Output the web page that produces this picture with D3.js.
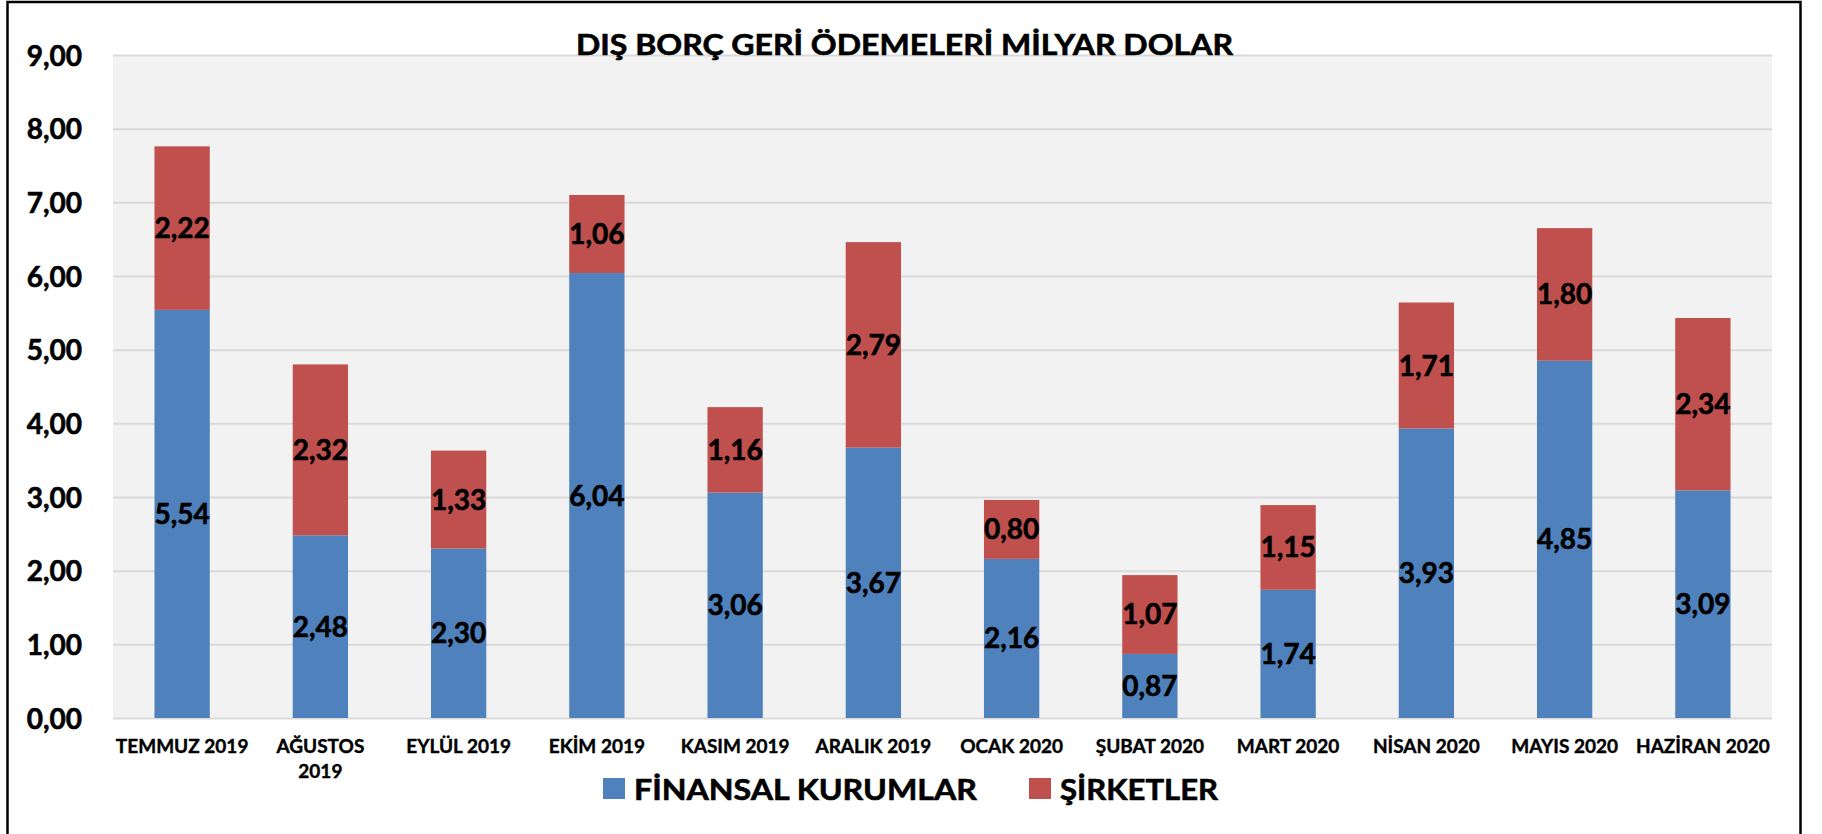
<!DOCTYPE html>
<html>
<head>
<meta charset="utf-8">
<script src="https://cdn.jsdelivr.net/npm/d3@7"></script>
<style>
  body { margin: 0; background: #fff; }
  text { font-family: Lato, "Open Sans", sans-serif; font-weight: 700; fill: #000; stroke: #000; stroke-width: 0.6px; }
</style>
</head>
<body>
<div id="chart"></div>
<script>
// Veriler (milyar dolar)
const months = ["TEMMUZ 2019", "AĞUSTOS 2019", "EYLÜL 2019", "EKİM 2019", "KASIM 2019", "ARALIK 2019",
  "OCAK 2020", "ŞUBAT 2020", "MART 2020", "NİSAN 2020", "MAYIS 2020", "HAZİRAN 2020"];
const xLabels = ["TEMMUZ 2019", "AĞUSTOS\n2019", "EYLÜL 2019", "EKİM 2019", "KASIM 2019", "ARALIK 2019",
  "OCAK 2020", "ŞUBAT 2020", "MART 2020", "NİSAN 2020", "MAYIS 2020", "HAZİRAN 2020"];
const finansal = [5.54, 2.48, 2.30, 6.04, 3.06, 3.67, 2.16, 0.87, 1.74, 3.93, 4.85, 3.09];
const sirketler = [2.22, 2.32, 1.33, 1.06, 1.16, 2.79, 0.80, 1.07, 1.15, 1.71, 1.80, 2.34];
const seriesNames = ["FİNANSAL KURUMLAR", "ŞİRKETLER"];
const colors = ["#4f81bd", "#c0504d"];
const yTicks = [0, 1, 2, 3, 4, 5, 6, 7, 8, 9];
const title = "DIŞ BORÇ GERİ ÖDEMELERİ MİLYAR DOLAR";

const W = 1822, H = 834;
const plot = { left: 113, right: 1772, top: 55, bottom: 718 };

const svg = d3.select("#chart").append("svg")
  .attr("width", W)
  .attr("height", H);

// çerçeve
svg.append("rect")
  .attr("x", 7.5).attr("y", 2)
  .attr("width", 1793).attr("height", 860)
  .attr("fill", "none")
  .attr("stroke", "#000")
  .attr("stroke-width", 2.5);

// çizim alanı arka planı
svg.append("rect")
  .attr("x", plot.left).attr("y", plot.top)
  .attr("width", plot.right - plot.left)
  .attr("height", plot.bottom - plot.top)
  .attr("fill", "#f2f2f2");

const x = d3.scaleBand()
  .domain(months)
  .range([plot.left, plot.right])
  .paddingInner(0.6)
  .paddingOuter(0.3);

const y = d3.scaleLinear().domain([0, 9]).range([plot.bottom, plot.top]);

const locale = d3.formatLocale({ decimal: ",", thousands: ".", grouping: [3], currency: ["", ""] });
const fmt = locale.format(".2f");

// Y-ekseni ve yatay ızgara
const yAxis = svg.append("g")
  .attr("transform", "translate(" + plot.left + ",0)")
  .call(d3.axisLeft(y).tickValues(yTicks).tickFormat(fmt)
    .tickSize(-(plot.right - plot.left)).tickPadding(31));
yAxis.select(".domain").remove();
yAxis.selectAll(".tick line").attr("stroke", "#d9d9d9").attr("stroke-width", 2);
yAxis.selectAll("text")
  .style("font-size", "28px")
  .attr("dy", "0.36em");

// X-ekseni
const xAxis = svg.append("g")
  .attr("transform", "translate(0," + plot.bottom + ")")
  .call(d3.axisBottom(x).tickSize(0).tickFormat(function (d, i) { return ""; }));
xAxis.select(".domain").remove();
xAxis.selectAll(".tick").each(function (d, i) {
  const lines = xLabels[i].split("\n");
  const t = d3.select(this).append("text")
    .attr("text-anchor", "middle")
    .attr("y", 35)
    .style("font-size", "19px")
    .style("stroke-width", "0.4px");
  lines.forEach(function (l, k) {
    t.append("tspan").attr("x", 0).attr("dy", k === 0 ? 0 : 25).text(l);
  });
});

// Yığılmış barlar
const rows = months.map(function (m, i) {
  return { month: m, fin: finansal[i], sir: sirketler[i] };
});
const stacked = d3.stack().keys(["fin", "sir"])(rows);

const layers = svg.selectAll(".layer")
  .data(stacked)
  .enter()
  .append("g")
  .attr("fill", function (d, i) { return colors[i]; });

layers.selectAll("rect")
  .data(function (d) { return d; })
  .enter()
  .append("rect")
  .attr("x", function (d) { return x(d.data.month); })
  .attr("y", function (d) { return y(d[1]); })
  .attr("width", x.bandwidth())
  .attr("height", function (d) { return y(d[0]) - y(d[1]); });

// Değer etiketleri
layers.selectAll(".lbl")
  .data(function (d) { return d; })
  .enter()
  .append("text")
  .attr("class", "lbl")
  .attr("x", function (d) { return x(d.data.month) + x.bandwidth() / 2; })
  .attr("y", function (d) { return y((d[0] + d[1]) / 2) + 10; })
  .attr("text-anchor", "middle")
  .style("font-size", "28px")
  .text(function (d) { return fmt(d[1] - d[0]); });

// Başlık
svg.append("text")
  .attr("x", 576)
  .attr("y", 55)
  .attr("textLength", 657)
  .attr("lengthAdjust", "spacingAndGlyphs")
  .style("font-size", "28px")
  .text(title);

// Lejant
const legendPos = [{ sx: 603, tx: 634, w: 343 }, { sx: 1029, tx: 1060, w: 158 }];
const legend = svg.selectAll(".legend")
  .data(seriesNames)
  .enter()
  .append("g");
legend.append("rect")
  .attr("x", function (d, i) { return legendPos[i].sx; })
  .attr("y", 778)
  .attr("width", 22)
  .attr("height", 21)
  .attr("fill", function (d, i) { return colors[i]; });
legend.append("text")
  .attr("x", function (d, i) { return legendPos[i].tx; })
  .attr("y", 800)
  .attr("textLength", function (d, i) { return legendPos[i].w; })
  .attr("lengthAdjust", "spacingAndGlyphs")
  .style("font-size", "29px")
  .text(function (d) { return d; });
</script>
</body>
</html>
